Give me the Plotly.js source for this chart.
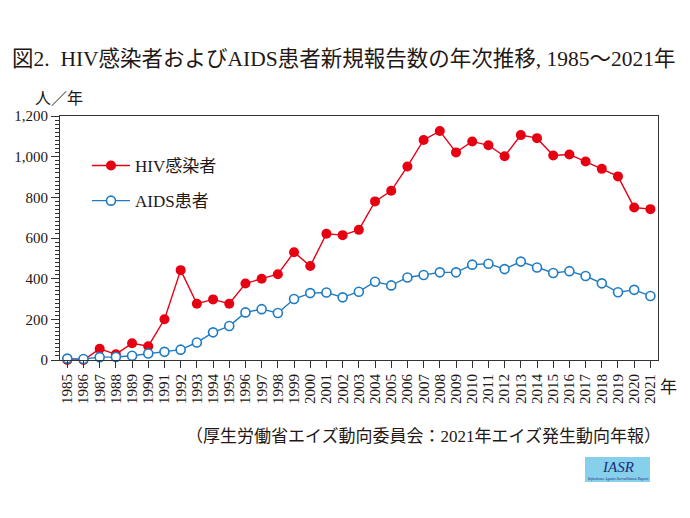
<!DOCTYPE html>
<html>
<head>
<meta charset="utf-8">
<script src="https://cdn.plot.ly/plotly-3.0.1.min.js"></script>
<style>html,body{margin:0;padding:0;background:#fff;}#chart{width:690px;height:518px;}</style>
</head>
<body>
<div id="chart"></div>
<script>
const years = [1985,1986,1987,1988,1989,1990,1991,1992,1993,1994,1995,1996,1997,1998,1999,2000,2001,2002,2003,2004,2005,2006,2007,2008,2009,2010,2011,2012,2013,2014,2015,2016,2017,2018,2019,2020,2021];
const hivValues = [0,0,55,28,82,68,200,442,277,298,277,376,400,422,530,462,621,614,640,780,832,952,1082,1126,1021,1075,1056,1002,1106,1091,1006,1011,976,940,903,750,742];
const aidsValues = [7,5,14,15,21,32,40,51,86,136,167,234,250,231,300,329,332,308,336,385,367,406,418,431,431,469,473,447,484,455,428,437,413,377,333,345,315];
const yearLabels = years.map(String);
const seriesNames = ['HIV感染者', 'AIDS患者'];
const titleText = '図2.  HIV感染者およびAIDS患者新規報告数の年次推移, 1985～2021年';
const yUnit = '人／年';
const xUnit = '年';
const sourceText = '（厚生労働省エイズ動向委員会：2021年エイズ発生動向年報）';

const FONT = "'Liberation Serif', 'DejaVu Serif', 'Noto Sans CJK JP', serif";
const TXT = '#231815';
const W = 690, H = 518;
const L = 60, R = 658, T = 116, B = 360;
const px = x => (x - L) / (R - L);
const py = y => (B - y) / (B - T);

const traces = [
  {
    x: years, y: hivValues, name: seriesNames[0], type: 'scatter', mode: 'lines+markers',
    line: {color: '#e60012', width: 1.4},
    marker: {color: '#e60012', size: 10, symbol: 'circle'},
    cliponaxis: false, legendgroup: 'a'
  },
  {
    x: years, y: aidsValues, name: seriesNames[1], type: 'scatter', mode: 'lines+markers',
    line: {color: '#1f7cc4', width: 1.4},
    marker: {color: '#ffffff', size: 9, symbol: 'circle', line: {color: '#1f7cc4', width: 1.6}},
    cliponaxis: false, legendgroup: 'b'
  }
];

const layout = {
  width: W, height: H,
  margin: {l: L, r: W - R, t: T, b: H - B, autoexpand: false},
  paper_bgcolor: '#fff', plot_bgcolor: '#fff',
  font: {family: FONT, color: TXT, size: 15},
  title: {
    text: titleText, x: 12 / W, xanchor: 'left', xref: 'container',
    y: 1 - 58 / H, yanchor: 'middle', yref: 'container',
    font: {family: FONT, size: 21.5, color: TXT}
  },
  showlegend: true,
  legend: {
    x: px(87), y: py(148), xanchor: 'left', yanchor: 'top',
    bgcolor: 'rgba(0,0,0,0)', font: {family: FONT, size: 17, color: TXT},
    traceorder: 'grouped', tracegroupgap: 10, itemwidth: 38
  },
  xaxis: {
    range: [1984.55, 2021.47], tickmode: 'array', tickvals: years, ticktext: yearLabels,
    tickangle: -90, ticks: 'outside', ticklen: 7, tickcolor: '#333', tickwidth: 1,
    showline: true, linecolor: '#333', linewidth: 1, mirror: true,
    showgrid: false, zeroline: false,
    tickfont: {family: FONT, size: 15, color: TXT}, fixedrange: true
  },
  yaxis: {
    range: [0, 1200], tickmode: 'array', tickvals: [0,200,400,600,800,1000,1200],
    ticktext: ['0','200','400','600','800','1,000','1,200'],
    ticks: 'outside', ticklen: 8, tickcolor: '#333', tickwidth: 1,
    minor: {dtick: 20, tick0: 0, ticks: 'outside', ticklen: 4, tickcolor: '#333', tickwidth: 1, showgrid: false},
    showline: true, linecolor: '#333', linewidth: 1, mirror: true,
    showgrid: false, zeroline: false,
    tickfont: {family: FONT, size: 15, color: TXT}, fixedrange: true
  },
  shapes: [
    {type: 'rect', xref: 'paper', yref: 'paper', x0: px(585), x1: px(650), y0: py(482), y1: py(457),
     fillcolor: '#86d0ec', line: {width: 0}, layer: 'above'}
  ],
  annotations: [
    {text: yUnit, xref: 'paper', yref: 'paper', x: px(59), y: py(98), xanchor: 'center', yanchor: 'middle',
     showarrow: false, font: {family: FONT, size: 16, color: TXT}},
    {text: xUnit, xref: 'paper', yref: 'paper', x: px(668), y: py(387), xanchor: 'center', yanchor: 'middle',
     showarrow: false, font: {family: FONT, size: 17, color: TXT}},
    {text: sourceText, xref: 'paper', yref: 'paper', x: px(663), y: py(436), xanchor: 'right', yanchor: 'middle',
     showarrow: false, font: {family: FONT, size: 17, color: TXT}},
    {text: '<i>IASR</i>', xref: 'paper', yref: 'paper', x: px(617.5), y: py(467), xanchor: 'center', yanchor: 'middle',
     showarrow: false, font: {family: FONT, size: 15, color: '#1b2a78'}},
    {text: '<i>Infectious Agents Surveillance Report</i>', xref: 'paper', yref: 'paper', x: px(617.5), y: py(478), xanchor: 'center', yanchor: 'middle',
     showarrow: false, font: {family: FONT, size: 4, color: '#1b2a78'}}
  ]
};

Plotly.newPlot('chart', traces, layout, {displayModeBar: false, staticPlot: true});
</script>
</body>
</html>
